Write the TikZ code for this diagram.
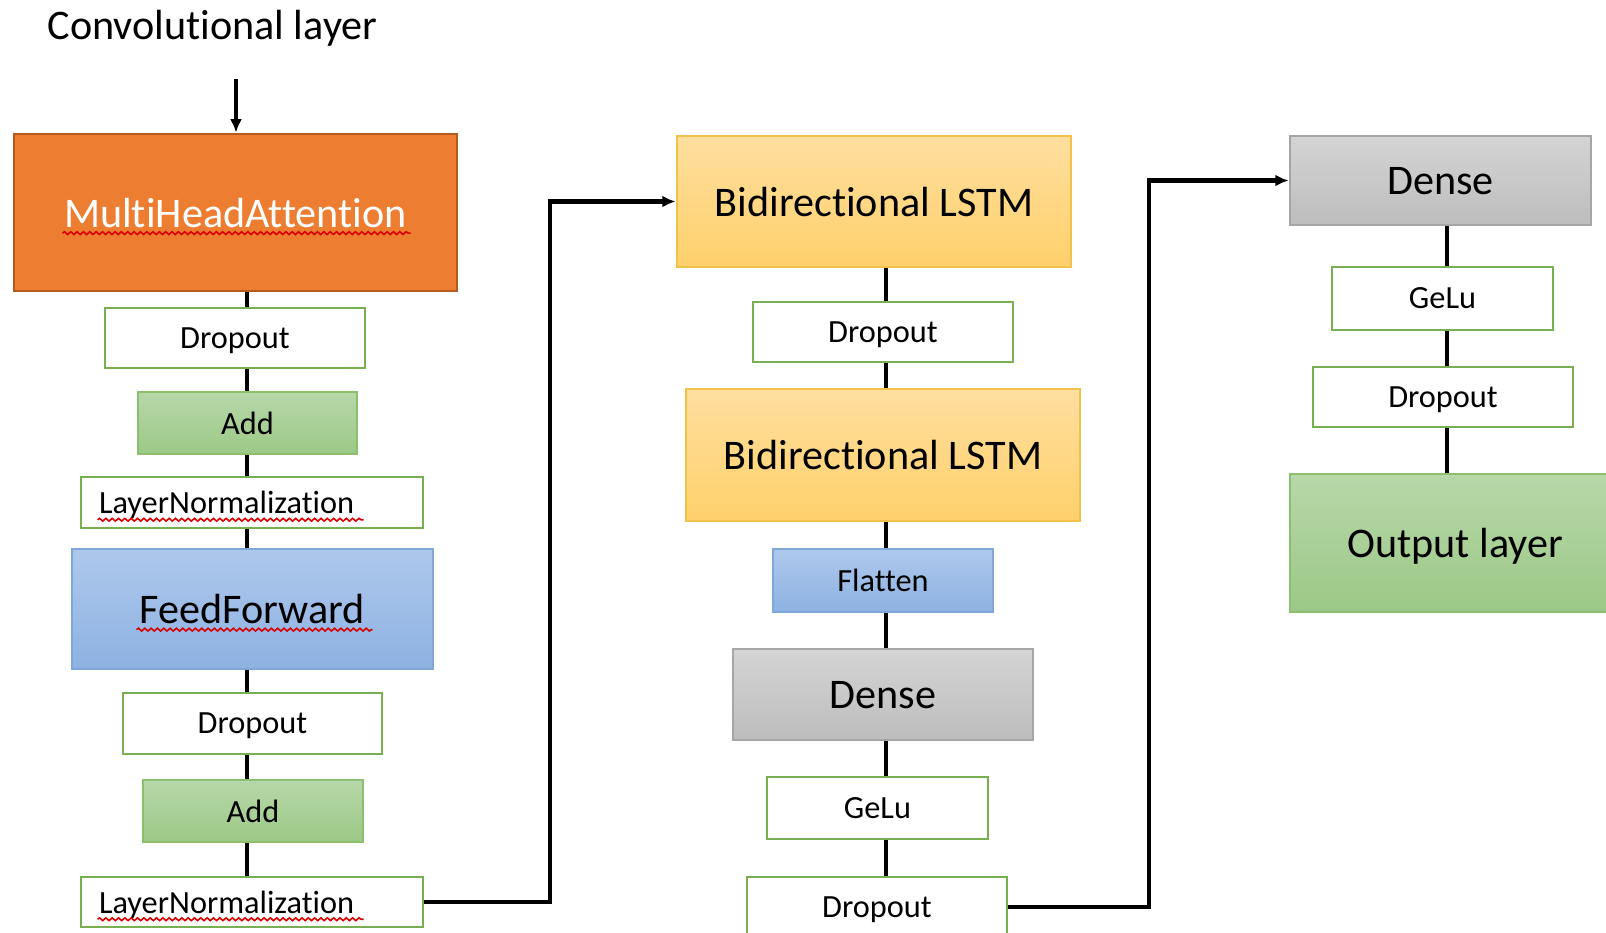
\documentclass[tikz,border=0pt]{standalone}
\usepackage{fontspec}
\setmainfont{Carlito}[Ligatures=NoCommon]
\usepackage{tikz}
\usetikzlibrary{arrows.meta, calc, decorations.pathmorphing}
\definecolor{attnfill}{HTML}{ED7D31}
\definecolor{attnedge}{HTML}{B65A1F}
\definecolor{plainedge}{HTML}{78B051}
\definecolor{addtop}{HTML}{B7D8A9}
\definecolor{addbot}{HTML}{9CC887}
\definecolor{addedge}{HTML}{8CBF6E}
\definecolor{fftop}{HTML}{AEC8EC}
\definecolor{ffbot}{HTML}{8DB2E2}
\definecolor{ffedge}{HTML}{7FA7D9}
\definecolor{lstmtop}{HTML}{FFDF9F}
\definecolor{lstmbot}{HTML}{FFD06B}
\definecolor{lstmedge}{HTML}{F2C14A}
\definecolor{densetop}{HTML}{D4D4D4}
\definecolor{densebot}{HTML}{BDBDBD}
\definecolor{denseedge}{HTML}{A6A6A6}

\begin{document}
\begin{tikzpicture}[
  big/.style={font=\fontsize{12}{14}\selectfont},
  small/.style={font=\fontsize{9.2}{11}\selectfont},
  sz/.style 2 args={minimum width=#1cm, minimum height=#2cm},
  layer/.style={draw, line width=0.8pt, inner sep=0pt, text depth=0pt},
  attn/.style={layer, big, fill=attnfill, draw=attnedge, text=white},
  plain/.style={layer, small, fill=white, draw=plainedge},
  addbox/.style={layer, top color=addtop, bottom color=addbot, draw=addedge},
  ffbox/.style={layer, top color=fftop, bottom color=ffbot, draw=ffedge},
  lstmbox/.style={layer, big, top color=lstmtop, bottom color=lstmbot, draw=lstmedge},
  densebox/.style={layer, big, top color=densetop, bottom color=densebot, draw=denseedge},
  normbox/.style={plain, text width=3.06cm, align=left, inner xsep=0.18cm, minimum height=0.51cm},
  link/.style={line width=1.2pt},
  flow/.style={line width=1.2pt, -{Latex[length=3.8pt, width=3.4pt]}},
  squig/.style={red!85!black, line width=0.45pt, decorate,
    decoration={snake, amplitude=0.4pt, segment length=1.8pt}}
]
  \useasboundingbox (0,0) rectangle (16.06,-9.33);

  \coordinate (spineA) at (2.47,0);
  \coordinate (spineB) at (8.86,0);
  \coordinate (spineC) at (14.47,0);
  \coordinate (bendA) at (5.50,0);
  \coordinate (bendB) at (11.49,0);

  % encoder block
  \node[big, anchor=base] (conv) at (2.125,-0.40) {Convolutional layer};
  \coordinate (feed) at (2.36,-0.79);
  \node[attn, sz={4.43}{1.57}] (mha) at (2.355,-2.125) {MultiHeadAttention};
  \node[plain, sz={2.60}{0.60}] (drop1) at (2.35,-3.38) {Dropout};
  \node[addbox, small, sz={2.19}{0.62}] (add1) at (2.475,-4.23) {Add};
  \node[normbox] (norm1) at (2.52,-5.025) {LayerNormalization};
  \node[ffbox, big, sz={3.61}{1.20}] (ffwd) at (2.525,-6.09) {FeedForward};
  \node[plain, sz={2.59}{0.61}] (drop2) at (2.525,-7.235) {Dropout};
  \node[addbox, small, sz={2.20}{0.62}] (add2) at (2.53,-8.11) {Add};
  \node[normbox, minimum height=0.50cm] (norm2) at (2.52,-9.02) {LayerNormalization};

  % recurrent block
  \node[lstmbox, sz={3.94}{1.31}] (lstm1) at (8.74,-2.015) {Bidirectional LSTM};
  \node[plain, sz={2.60}{0.60}] (drop3) at (8.83,-3.32) {Dropout};
  \node[lstmbox, sz={3.94}{1.32}] (lstm2) at (8.83,-4.55) {Bidirectional LSTM};
  \node[ffbox, small, sz={2.20}{0.63}] (flat) at (8.83,-5.805) {Flatten};
  \node[densebox, sz={3.00}{0.91}] (dense1) at (8.83,-6.945) {Dense};
  \node[plain, sz={2.21}{0.62}] (gelu1) at (8.775,-8.08) {GeLu};
  \node[plain, sz={2.60}{0.60}] (drop4) at (8.77,-9.07) {Dropout};

  % head
  \node[densebox, sz={3.01}{0.89}] (dense2) at (14.405,-1.805) {Dense};
  \node[plain, sz={2.21}{0.63}] (gelu2) at (14.425,-2.985) {GeLu};
  \node[plain, sz={2.60}{0.60}] (drop5) at (14.43,-3.97) {Dropout};
  \node[addbox, big, sz={3.30}{1.38}] (out) at (14.55,-5.43) {Output layer};

  \draw[flow] (feed) -- (mha.north -| feed);
  \foreach \a/\b/\s in {mha/drop1/spineA, drop1/add1/spineA, add1/norm1/spineA,
      norm1/ffwd/spineA, ffwd/drop2/spineA, drop2/add2/spineA, add2/norm2/spineA,
      lstm1/drop3/spineB, drop3/lstm2/spineB, lstm2/flat/spineB, flat/dense1/spineB,
      dense1/gelu1/spineB, gelu1/drop4/spineB,
      dense2/gelu2/spineC, gelu2/drop5/spineC, drop5/out/spineC}
    \draw[link] (\a.south -| \s) -- (\b.north -| \s);
  \draw[flow] (norm2.east) -- (norm2.east -| bendA) -- (lstm1.west -| bendA) -- (lstm1.west);
  \draw[flow] (drop4.east) -- (drop4.east -| bendB) -- (dense2.west -| bendB) -- (dense2.west);

  % spell-check marks
  \draw[squig] ($(mha.base)+(-1.73,-0.06)$) -- ++(3.48,0);
  \draw[squig] ($(ffwd.base)+(-1.16,-0.06)$) -- ++(2.36,0);
  \draw[squig] ($(norm1.base -| norm1.west)+(0.18,-0.06)$) -- ++(2.66,0);
  \draw[squig] ($(norm2.base -| norm2.west)+(0.18,-0.06)$) -- ++(2.66,0);
\end{tikzpicture}
\end{document}
